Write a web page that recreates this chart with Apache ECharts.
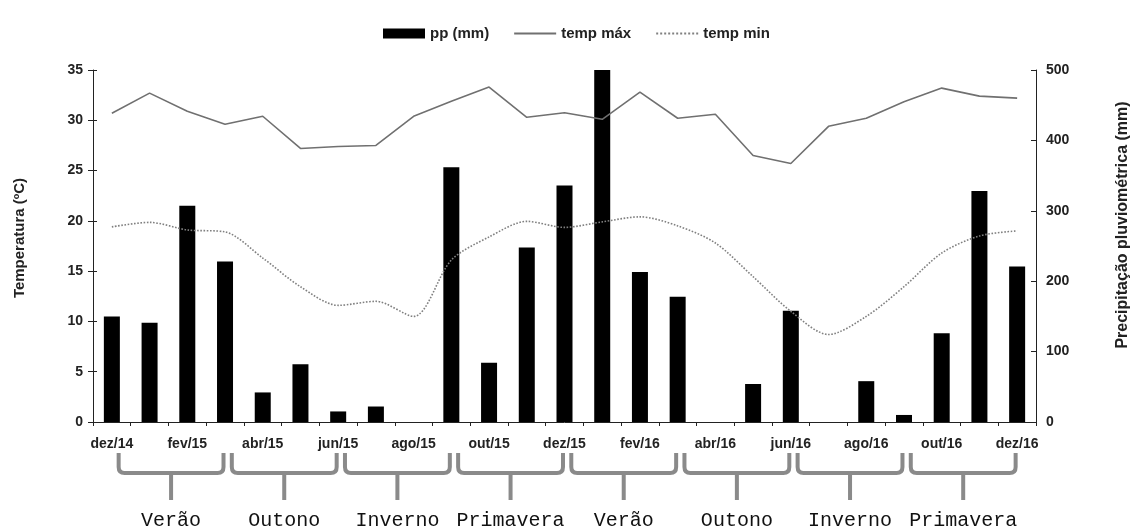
<!DOCTYPE html>
<html>
<head>
<meta charset="utf-8">
<script src="https://cdn.jsdelivr.net/npm/echarts@6/dist/echarts.min.js"></script>
<style>
html,body{margin:0;padding:0;background:#fff;}
#c{width:1132px;height:532px;}
</style>
</head>
<body>
<div id="c"></div>
<script>
var months = ['dez/14','jan/15','fev/15','mar/15','abr/15','mai/15','jun/15','jul/15','ago/15','set/15','out/15','nov/15','dez/15','jan/16','fev/16','mar/16','abr/16','mai/16','jun/16','jul/16','ago/16','set/16','out/16','nov/16','dez/16'];
var pp = [150,141,307,228,42,82,15,22,0,362,84,248,336,500,213,178,0,54,158,0,58,10,126,328,221];
var tmax = [30.7,32.7,30.9,29.6,30.4,27.2,27.4,27.5,30.4,31.9,33.3,30.3,30.75,30.1,32.8,30.2,30.6,26.5,25.7,29.4,30.2,31.85,33.2,32.4,32.2];
var tmin = [19.4,19.85,19.1,18.9,16.3,13.45,11.6,12.0,10.5,16.1,18.4,19.95,19.35,19.9,20.4,19.5,17.8,14.45,11.0,8.7,10.5,13.45,16.8,18.5,19.0];
var seasonNames = ['Verão','Outono','Inverno','Primavera','Verão','Outono','Inverno','Primavera'];
var seasonStart = [0,3,6,9,12,15,18,21];
var seasonEnd = [2,5,8,11,14,17,20,23];

var seasonData = seasonNames.map(function(n,i){ return [seasonStart[i], seasonEnd[i], 0]; });

var labelFont = {fontFamily:'Liberation Sans', fontWeight:'bold', fontSize:14, color:'#222'};
var chart = echarts.init(document.getElementById('c'), null, {renderer:'canvas'});
chart.setOption({
  animation:false,
  backgroundColor:'#fff',
  grid:{left:93,right:96,top:70,bottom:110,containLabel:false},
  legend:{
    data:[{name:'pp (mm)',icon:'rect'},{name:'temp máx',itemStyle:{opacity:0}},{name:'temp min',itemStyle:{opacity:0}}],
    left:378, top:21, itemWidth:42, itemHeight:10, itemGap:24,
    textStyle:{fontFamily:'Liberation Sans',fontWeight:'bold',fontSize:15,color:'#222'}
  },
  xAxis:{
    type:'category', data:months, boundaryGap:true,
    axisLine:{lineStyle:{color:'#222',width:1}},
    axisTick:{show:true,interval:0,length:4,lineStyle:{color:'#222'}},
    axisLabel:Object.assign({interval:1,margin:15},labelFont),
    splitLine:{show:false}
  },
  yAxis:[
    {type:'value',min:0,max:35,interval:5,position:'left',
     axisLine:{show:true,lineStyle:{color:'#222'}},
     axisTick:{show:true,length:5,lineStyle:{color:'#222'}},
     axisLabel:Object.assign({margin:10},labelFont),
     splitLine:{show:false}},
    {type:'value',min:0,max:500,interval:100,position:'right',
     axisLine:{show:true,lineStyle:{color:'#222'}},
     axisTick:{show:true,inside:true,length:5,lineStyle:{color:'#222'}},
     axisLabel:Object.assign({margin:10},labelFont),
     splitLine:{show:false}},
    {type:'value',min:0,max:35,interval:5,position:'left',
     axisLine:{show:false},
     axisTick:{show:true,inside:true,length:4,lineStyle:{color:'#222'}},
     axisLabel:{show:false},
     splitLine:{show:false}}
  ],
  graphic:[
    {type:'text',x:20,y:238,rotation:Math.PI/2,style:{text:'Temperatura (ºC)',font:'bold 15px "Liberation Sans"',fill:'#222',align:'center',verticalAlign:'middle'}},
    {type:'text',x:1123,y:225,rotation:Math.PI/2,style:{text:'Precipitação pluviométrica (mm)',font:'bold 16px "Liberation Sans"',fill:'#222',align:'center',verticalAlign:'middle'}}
  ],
  series:[
    {name:'temp máx',type:'line',yAxisIndex:0,data:tmax,symbol:'none',smooth:false,
     lineStyle:{color:'#707070',width:1.6,type:'solid'},itemStyle:{color:'#707070'}},
    {name:'temp min',type:'line',yAxisIndex:0,data:tmin,symbol:'none',smooth:0.3,
     lineStyle:{color:'#808080',width:1.6,type:'dotted'},itemStyle:{color:'#808080'}},
    {name:'pp (mm)',type:'bar',yAxisIndex:1,data:pp,barWidth:16,itemStyle:{color:'#000'}},
    {name:'estacoes',type:'custom',xAxisIndex:0,yAxisIndex:0,clip:false,silent:true,
     encode:{x:[0,1],y:2},data:seasonData,
     renderItem:function(params,api){
       var band = api.size([1,0])[0];
       var p0 = api.coord([api.value(0),0]);
       var p1 = api.coord([api.value(1),0]);
       var ax = p0[1];
       var L = p0[0] + 0.18*band, R = p1[0] + 0.96*band, C = (L+R)/2;
       var T = ax+31, H = ax+51, B = ax+78, r = 6;
       var d = 'M'+L+' '+T+' L'+L+' '+(H-r)+' Q'+L+' '+H+' '+(L+r)+' '+H+
               ' L'+(R-r)+' '+H+' Q'+R+' '+H+' '+R+' '+(H-r)+' L'+R+' '+T+
               ' M'+C+' '+H+' L'+C+' '+B;
       return {type:'group',children:[
         {type:'path',shape:{pathData:d},style:{stroke:'#8a8a8a',lineWidth:4,fill:null}},
         {type:'text',x:C,y:ax+99,style:{text:seasonNames[params.dataIndex],font:'20px "Liberation Mono"',fill:'#111',align:'center',verticalAlign:'middle'}}
       ]};
     }}
  ]
});
</script>
</body>
</html>
